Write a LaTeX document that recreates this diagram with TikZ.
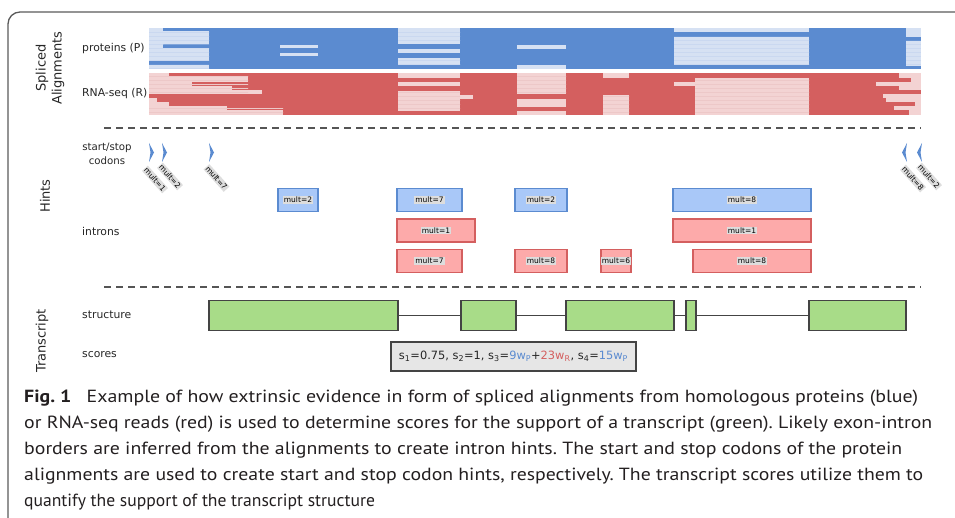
\documentclass[tikz,border=0pt]{standalone}
\usepackage{fontspec}
\setmainfont{DejaVu Sans}
\newfontfamily\capfont{PT Sans}
\frenchspacing
\definecolor{pdark}{HTML}{5B8BD0}
\definecolor{plight}{HTML}{D6E1F3}
\definecolor{plline}{HTML}{CAD8F0}
\definecolor{rdark}{HTML}{D45F5F}
\definecolor{rlight}{HTML}{F3D3D3}
\definecolor{rlline}{HTML}{EDC8C8}
\definecolor{bhint}{HTML}{A9C8F8}
\definecolor{rhint}{HTML}{FDAAAA}
\definecolor{labbg}{HTML}{DDDDDD}
\definecolor{exg}{HTML}{A8DC88}
\definecolor{exb}{HTML}{444444}
\definecolor{sbg}{HTML}{E6E6E6}
\definecolor{dgray}{HTML}{555555}
\definecolor{framec}{HTML}{5A5A5A}
\definecolor{sblue}{HTML}{5B8BD0}
\definecolor{sred}{HTML}{D45F5F}
\definecolor{captxt}{HTML}{231F20}
\newcommand\hlbox[1]{{\setlength{\fboxsep}{1pt}\colorbox{labbg}{#1}}}
\newcommand\capline[2]{\resizebox{#1}{\height}{#2}}
\tikzset{
 lab/.style={font=\fontsize{10.8}{12}\selectfont, anchor=west, inner sep=0, text=black!85},
 ttl/.style={font=\fontsize{13}{16}\selectfont, rotate=90, align=center, inner sep=0, text=black!85},
 hintb/.style={draw=pdark, fill=bhint, line width=1.8, inner sep=0, font=\fontsize{7.5}{9}\selectfont},
 hintr/.style={draw=rdark, fill=rhint, line width=1.8, inner sep=0, font=\fontsize{7.5}{9}\selectfont},
 mlab/.style={font=\fontsize{7.5}{9}\selectfont, inner sep=0, rotate=-48},
 exon/.style={draw=exb, fill=exg, line width=1.2, inner sep=0, minimum height=29.5},
 dsh/.style={dash pattern=on 7pt off 5pt, draw=dgray, line width=1.2},
 captext/.style={font=\capfont\fontsize{17.6}{26}\selectfont, anchor=base west, inner sep=0, text=captxt}
}
\begin{document}
\begin{tikzpicture}[x=1pt,y=-1pt]
\useasboundingbox (0,0) rectangle (955,518);
% frame
\draw[framec, line width=1.3, rounded corners=12pt] (8,518) -- (8,12) -- (955,12);
% protein block
\fill[pdark] (149,28) rectangle (921,69);
\foreach \a/\b/\c/\d in {149/28/163/31.5, 149/31.5/209/44.5, 149/44.5/163/48.5, 149/48.5/209/61, 149/65/209/69,
  280/45/318/48.5, 280/53/318/56.5,
  398/28/460/44, 398/49/460/53, 398/58/460/65,
  517/45/566/49, 517/65.5/566/69,
  674/28/809/32, 674/37/809/65,
  906/28/921/37, 906/41/921/66}
  {\fill[plight] (\a,\b) rectangle (\c,\d);}
\begin{scope}
\path[clip] \foreach \a/\b/\c/\d in {149/28/163/31.5, 149/31.5/209/44.5, 149/44.5/163/48.5, 149/48.5/209/61, 149/65/209/69,
  398/28/460/44, 398/58/460/65, 674/37/809/65, 906/41/921/66} {(\a,\b) rectangle (\c,\d)};
\foreach \y in {32,36,...,68} \draw[plline, line width=0.5] (149,\y) -- (921,\y);
\end{scope}
% RNA block
\fill[rdark] (149,73) rectangle (921,115);
\foreach \a/\b/\c/\d in {149/73/169/77.5, 149/77.5/248/82, 149/82/192/86, 149/86/232/90, 149/90/262/94,
  149/98/157/102, 149/102/169/106, 149/106/227/110.5, 149/110.5/283/115,
  398/73/460/78, 398/82/460/86, 398/91/460/111, 460/95/473/99,
  517/73/566/94, 517/99/566/107, 517/111/566/115,
  603/73/629/78, 603/95/629/115,
  674/82/695/86, 695/78/809/115,
  899/73/921/78, 911/78/921/82, 876/82/921/86, 899/86/921/90, 883/94/921/98, 886/98/921/102,
  915/102/921/106, 894/106/921/110, 909/110/921/115}
  {\fill[rlight] (\a,\b) rectangle (\c,\d);}
\begin{scope}
\path[clip] \foreach \a/\b/\c/\d in {149/73/248/94, 149/106/283/115, 398/91/460/111, 517/73/566/94, 603/95/629/115, 695/78/809/115}
  {(\a,\b) rectangle (\c,\d)};
\foreach \y in {76,80,...,114} \draw[rlline, line width=0.5] (149,\y) -- (921,\y);
\end{scope}
% left labels
\node[ttl] (tsa) at (50,68) {Spliced\\Alignments};
\node[lab] (lp) at (82,48.5) {proteins (P)};
\node[lab] (lr) at (82,94) {RNA-seq (R)};
\coordinate (d1a) at (104,128); \coordinate (d1b) at (921,128);
\draw[dsh] (d1a) -- (d1b);
\node[ttl] (th) at (45,196) {Hints};
\node[lab, anchor=center, align=center, font=\fontsize{10.2}{14.5}\selectfont] (lsc) at (107,154) {start/stop\\codons};
\node[lab] (li) at (82,231) {introns};
% codon hints
\fill[pdark] (149,143) -- (154,152.5) -- (149,162) -- (150.5,152.5) -- cycle;
\fill[pdark] (162,143) -- (167,152.5) -- (162,162) -- (163.5,152.5) -- cycle;
\fill[pdark] (209,143) -- (214,152.5) -- (209,162) -- (210.5,152.5) -- cycle;
\fill[pdark] (907,143) -- (902,152.5) -- (907,162) -- (905.5,152.5) -- cycle;
\fill[pdark] (922,143) -- (917,152.5) -- (922,162) -- (920.5,152.5) -- cycle;
\node[mlab] (c1) at (155,179.5) {\hlbox{mult=1}};
\node[mlab] (c2) at (170,176.5) {\hlbox{mult=2}};
\node[mlab] (c3) at (216.5,178) {\hlbox{mult=7}};
\node[mlab] (c4) at (913,178.5) {\hlbox{mult=8}};
\node[mlab] (c5) at (929,176.5) {\hlbox{mult=2}};
% intron hints
\node[hintb, minimum width=40, minimum height=23] (hb1) at (298,200) {\hlbox{mult=2}};
\node[hintb, minimum width=65, minimum height=23] (hb2) at (429.5,200) {\hlbox{mult=7}};
\node[hintb, minimum width=52, minimum height=23] (hb3) at (541,200) {\hlbox{mult=2}};
\node[hintb, minimum width=138, minimum height=23] (hb4) at (742,200) {\hlbox{mult=8}};
\node[hintr, minimum width=78, minimum height=23] (hr1) at (436,230.5) {\hlbox{mult=1}};
\node[hintr, minimum width=138, minimum height=23] (hr2) at (742,230.5) {\hlbox{mult=1}};
\node[hintr, minimum width=65, minimum height=23] (hr3) at (429.5,261) {\hlbox{mult=7}};
\node[hintr, minimum width=52, minimum height=23] (hr4) at (541,261) {\hlbox{mult=8}};
\node[hintr, minimum width=28, minimum height=23] (hr5) at (616,261) {\hlbox{mult=6}};
\node[hintr, minimum width=118, minimum height=23] (hr6) at (752,261) {\hlbox{mult=8}};
\coordinate (d2a) at (104,287); \coordinate (d2b) at (921,287);
\draw[dsh] (d2a) -- (d2b);
% transcript
\node[ttl] (tt) at (42,341) {Transcript};
\node[lab] (ls) at (82,315) {structure};
\node[lab] (lsc2) at (82,355) {scores};
\node[exon, minimum width=189] (e1) at (303.5,315.5) {};
\node[exon, minimum width=55] (e2) at (488.5,315.5) {};
\node[exon, minimum width=108] (e3) at (620,315.5) {};
\node[exon, minimum width=10] (e4) at (691,315.5) {};
\node[exon, minimum width=97] (e5) at (857.5,315.5) {};
\draw[exb, line width=1] (e1.east) -- (e2.west);
\draw[exb, line width=1] (e2.east) -- (e3.west);
\draw[exb, line width=1] (e3.east) -- (e4.west);
\draw[exb, line width=1] (e4.east) -- (e5.west);
\node[draw=exb, fill=sbg, line width=1.2, minimum width=245, minimum height=29, inner sep=0, font=\fontsize{11.4}{13}\selectfont, text=black!85] (sc) at (513.5,356.5)
 {s\textsubscript{1}=0.75, s\textsubscript{2}=1, s\textsubscript{3}=\textcolor{sblue}{9w\textsubscript{P}}+\textcolor{sred}{23w\textsubscript{R}}, s\textsubscript{4}=\textcolor{sblue}{15w\textsubscript{P}}};
% caption
\node[captext] (cap1) at (24,402) {\capline{894pt}{\textbf{Fig. 1}\hspace{0.5em} Example of how extrinsic evidence in form of spliced alignments from homologous proteins (blue)}};
\node[captext] (cap2) at (24,428) {\capline{908pt}{or RNA-seq reads (red) is used to determine scores for the support of a transcript (green). Likely exon-intron}};
\node[captext] (cap3) at (24,454) {\capline{878pt}{borders are inferred from the alignments to create intron hints. The start and stop codons of the protein}};
\node[captext] (cap4) at (24,480) {\capline{899pt}{alignments are used to create start and stop codon hints, respectively. The transcript scores utilize them to}};
\node[captext] (cap5) at (24,506) {quantify the support of the transcript structure};
\end{tikzpicture}
\end{document}
